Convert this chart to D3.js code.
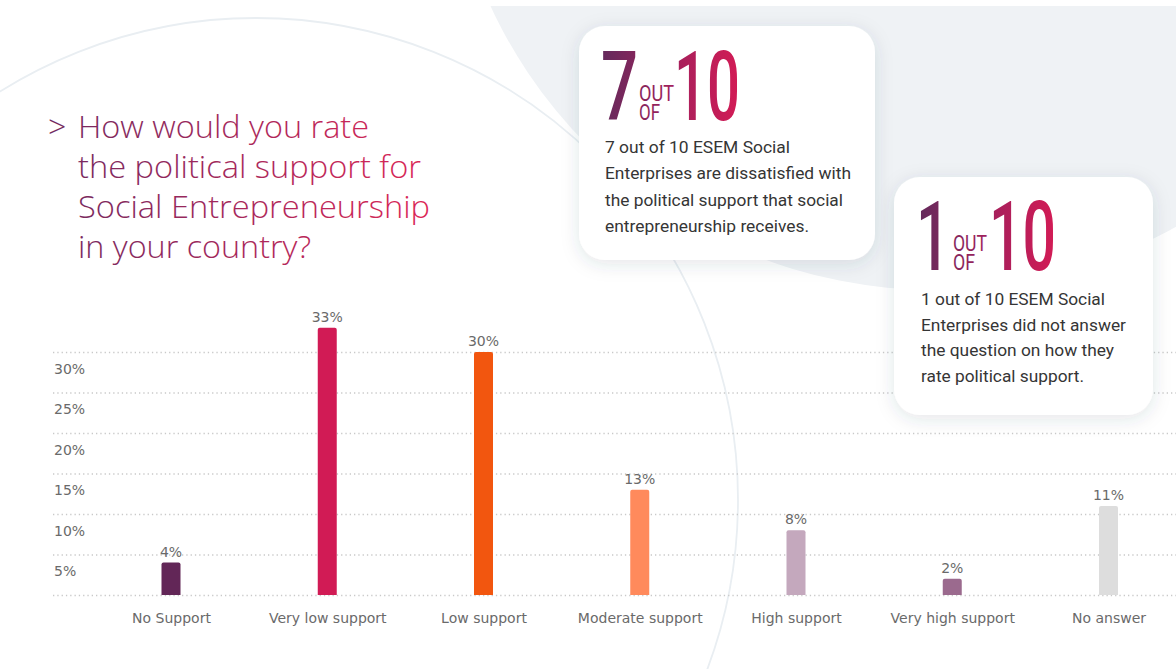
<!DOCTYPE html>
<html>
<head>
<meta charset="utf-8">
<script src="https://cdn.jsdelivr.net/npm/d3@7/dist/d3.min.js"></script>
<style>
  html, body { margin: 0; padding: 0; background: #ffffff; }
  svg { display: block; }
</style>
</head>
<body>
<svg id="chart" width="1176" height="669"></svg>
<script>
// Survey answers: share of respondents per rating
const categories = ["No Support", "Very low support", "Low support", "Moderate support", "High support", "Very high support", "No answer"];
const shares = [4, 33, 30, 13, 8, 2, 11];
const barColors = ["#622657", "#d11b55", "#f2560f", "#ff8a5c", "#c4a8bd", "#9b6a8e", "#dddddd"];
const tickValues = [0, 5, 10, 15, 20, 25, 30];

// Headline question, one entry per line
const titleLines = ["How would you rate", "the political support for", "Social Entrepreneurship", "in your country?"];

// Key-figure callouts
const calloutA = { big: "7", small: ["OUT", "OF"], total: "10",
  lines: ["7 out of 10 ESEM Social", "Enterprises are dissatisfied with", "the political support that social", "entrepreneurship receives."] };
const calloutB = { big: "1", small: ["OUT", "OF"], total: "10",
  lines: ["1 out of 10 ESEM Social", "Enterprises did not answer", "the question on how they", "rate political support."] };

const svg = d3.select("#chart");
const defs = svg.append("defs");

// Gradients and shadow
const tg = defs.append("linearGradient").attr("id", "titleGrad")
  .attr("gradientUnits", "userSpaceOnUse").attr("x1", 50).attr("x2", 430).attr("y1", 0).attr("y2", 0);
tg.append("stop").attr("offset", "0%").attr("stop-color", "#72295f");
tg.append("stop").attr("offset", "100%").attr("stop-color", "#dc2656");

function numGrad(id, x1, x2) {
  const g = defs.append("linearGradient").attr("id", id)
    .attr("gradientUnits", "userSpaceOnUse").attr("x1", x1).attr("x2", x2).attr("y1", 0).attr("y2", 0);
  g.append("stop").attr("offset", "0%").attr("stop-color", "#652a5c");
  g.append("stop").attr("offset", "55%").attr("stop-color", "#a8205c");
  g.append("stop").attr("offset", "100%").attr("stop-color", "#d31b55");
}
numGrad("numGradA", 603, 740);
numGrad("numGradB", 920, 1056);

const sh = defs.append("filter").attr("id", "shadow")
  .attr("x", "-20%").attr("y", "-20%").attr("width", "140%").attr("height", "150%");
sh.append("feDropShadow").attr("dx", 0).attr("dy", 4).attr("stdDeviation", 9)
  .attr("flood-color", "#3a4a5a").attr("flood-opacity", 0.13);

// Background shapes
svg.append("rect").attr("width", 1176).attr("height", 669).attr("fill", "#ffffff");
svg.append("circle").attr("cx", 935).attr("cy", -200).attr("r", 490).attr("fill", "#eff2f5");
svg.append("circle").attr("cx", 256).attr("cy", 500).attr("r", 482)
  .attr("fill", "#ffffff").attr("stroke", "#e9eef2").attr("stroke-width", 1.8);
svg.append("rect").attr("width", 1176).attr("height", 6).attr("fill", "#ffffff");

// Title
const title = svg.append("g").attr("font-family", "'Open Sans', sans-serif")
  .attr("font-weight", 300).attr("font-size", 32).attr("fill", "url(#titleGrad)");
title.append("text").attr("x", 48).attr("y", 138).text(">");
const titleWidths = [291, 343, 352, 233];
title.selectAll("text.line").data(titleLines).join("text")
  .attr("class", "line")
  .attr("x", 78)
  .attr("y", (d, i) => 138 + i * 40)
  .attr("textLength", (d, i) => titleWidths[i])
  .attr("lengthAdjust", "spacingAndGlyphs")
  .text(d => d);

// Scales
const x = d3.scalePoint().domain(categories).range([171, 1108.5]);
const y = d3.scaleLinear().domain([0, 30]).range([595, 352]);

const axisFont = "'DejaVu Sans', Verdana, sans-serif";

// Value axis: dotted gridlines with labels sitting under each line
const yAxis = svg.append("g").attr("transform", "translate(53,0)")
  .call(d3.axisRight(y).tickValues(tickValues).tickSize(1123)
    .tickFormat(d => d ? d + "%" : ""));
yAxis.select(".domain").remove();
yAxis.selectAll(".tick line")
  .attr("stroke", "#c9c9c9").attr("stroke-width", 1.3).attr("stroke-dasharray", "1.3,3");
yAxis.selectAll(".tick text")
  .attr("x", 1).attr("y", 21).attr("dy", null).attr("text-anchor", "start")
  .attr("font-family", axisFont).attr("font-size", 14)
  .attr("fill", "#6a6a6a");

// Category axis
const xAxis = svg.append("g").attr("transform", "translate(0,595)")
  .call(d3.axisBottom(x).tickSize(0));
xAxis.select(".domain").remove();
xAxis.selectAll(".tick text")
  .attr("y", 28).attr("dy", null)
  .attr("font-family", axisFont).attr("font-size", 14)
  .attr("fill", "#6a6a6a");

// Bars with rounded tops
const barW = 19, rad = 2;
function barPath(cx, top, bottom) {
  const l = cx - barW / 2, r = cx + barW / 2;
  return `M${l},${bottom}V${top + rad}Q${l},${top} ${l + rad},${top}H${r - rad}Q${r},${top} ${r},${top + rad}V${bottom}Z`;
}
svg.append("g").selectAll("path").data(categories).join("path")
  .attr("d", (d, i) => barPath(x(d), y(shares[i]), y(0)))
  .attr("fill", (d, i) => barColors[i]);

// Value labels
svg.append("g").selectAll("text").data(categories).join("text")
  .attr("x", d => x(d))
  .attr("y", (d, i) => y(shares[i]) - 6)
  .attr("text-anchor", "middle")
  .attr("font-family", axisFont).attr("font-size", 14)
  .attr("fill", "#6a6a6a")
  .text((d, i) => shares[i] + "%");

// Callout cards
function callout(c, box, gradId, num, body) {
  const g = svg.append("g");
  g.append("rect").attr("x", box.x).attr("y", box.y).attr("width", box.w).attr("height", box.h)
    .attr("rx", 26).attr("fill", "#ffffff").attr("filter", "url(#shadow)");
  const big = g.append("g").attr("font-family", "Roboto, sans-serif").attr("fill", `url(#${gradId})`);
  big.append("text").attr("x", num.x0).attr("y", num.base).attr("font-size", 96).attr("font-weight", 500)
    .attr("textLength", num.w0).attr("lengthAdjust", "spacingAndGlyphs").text(c.big);
  big.append("text").attr("x", num.xs).attr("y", num.base - 19).attr("font-size", 22)
    .attr("textLength", num.ws[0]).attr("lengthAdjust", "spacingAndGlyphs").text(c.small[0]);
  big.append("text").attr("x", num.xs).attr("y", num.base).attr("font-size", 22)
    .attr("textLength", num.ws[1]).attr("lengthAdjust", "spacingAndGlyphs").text(c.small[1]);
  big.append("text").attr("x", num.x1).attr("y", num.base).attr("font-size", 96).attr("font-weight", 500)
    .attr("textLength", num.w1).attr("lengthAdjust", "spacingAndGlyphs").text(c.total);
  g.append("g").attr("font-family", "Roboto, sans-serif").attr("font-size", 16.5).attr("fill", "#353535")
    .selectAll("text").data(c.lines).join("text")
    .attr("x", body.x)
    .attr("y", (d, i) => body.base + i * body.step)
    .attr("textLength", (d, i) => body.widths[i])
    .attr("lengthAdjust", "spacingAndGlyphs")
    .text(d => d);
}

callout(calloutA, { x: 579, y: 26, w: 296, h: 234 }, "numGradA",
  { x0: 601, w0: 37, xs: 639, ws: [35, 21], x1: 674, w1: 66, base: 120 },
  { x: 605, base: 153, step: 26.3, widths: [185, 246, 238, 204] });

callout(calloutB, { x: 894, y: 177, w: 259, h: 238 }, "numGradB",
  { x0: 916, w0: 34, xs: 953, ws: [34, 22], x1: 989, w1: 67, base: 270 },
  { x: 921, base: 305, step: 25.7, widths: [184, 205, 193, 163] });
</script>
</body>
</html>
